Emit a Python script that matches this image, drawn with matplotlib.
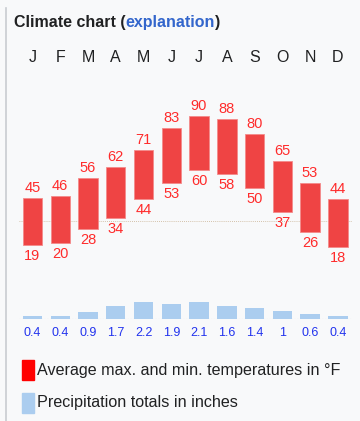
import matplotlib.pyplot as plt
from matplotlib.patches import Rectangle

plt.rcParams['font.family'] = ['Liberation Sans', 'DejaVu Sans']

months = ['J', 'F', 'M', 'A', 'M', 'J', 'J', 'A', 'S', 'O', 'N', 'D']
temp_max = [45, 46, 56, 62, 71, 83, 90, 88, 80, 65, 53, 44]
temp_min = [19, 20, 28, 34, 44, 53, 60, 58, 50, 37, 26, 18]
precip = [0.4, 0.4, 0.9, 1.7, 2.2, 1.9, 2.1, 1.6, 1.4, 1, 0.6, 0.4]
precip_labels = ['0.4', '0.4', '0.9', '1.7', '2.2', '1.9', '2.1', '1.6', '1.4', '1', '0.6', '0.4']

W, H = 360, 421
bg = '#f8f9fa'
bar_red = '#ef4444'
text_red = '#ff2b2b'
bar_blue = '#abcdef'
text_blue = '#2233ee'

fig = plt.figure(figsize=(W / 100, H / 100), dpi=100, facecolor=bg)


def px_axes(left, top, right, bottom):
    # axes rectangle given in pixel coordinates from the top-left corner
    return fig.add_axes([left / W, 1 - bottom / H, (right - left) / W, (bottom - top) / H])


x = list(range(12))

# temperature axes
ax = px_axes(18.6, 100, 351.7, 270)
ax.set_xlim(-0.5, 11.5)
ax.set_ylim(5.2, 98.6)
ax.axis('off')
heights = [hi - lo for hi, lo in zip(temp_max, temp_min)]
ax.bar(x, heights, bottom=temp_min, width=0.7, color=bar_red, edgecolor='#f48a8a', linewidth=0.6, zorder=3)
ax.axhline(32, color='#c8b090', linestyle=(0, (1, 1.5)), linewidth=0.6, zorder=1)
for i in x:
    ax.annotate(str(temp_max[i]), (i, temp_max[i]), xytext=(0, 10), textcoords='offset pixels',
                ha='center', va='center', color=text_red, fontsize=10.5)
    ax.annotate(str(temp_min[i]), (i, temp_min[i]), xytext=(0, -11), textcoords='offset pixels',
                ha='center', va='center', color=text_red, fontsize=10.5)

# month letters along the top
for i, m in enumerate(months):
    ax.annotate(m, (i, 0), xycoords=('data', 'figure fraction'), xytext=(0, H - 58),
                textcoords='offset pixels', ha='center', va='center', fontsize=11.5, color='#202122')

# precipitation axes
ax2 = px_axes(18.6, 290, 351.7, 319)
ax2.set_xlim(-0.5, 11.5)
ax2.set_ylim(0, 29 / 7.9)
ax2.axis('off')
ax2.bar(x, precip, width=0.7, color=bar_blue, zorder=3)
ax2.axhline(0, color='#c8c8c8', linestyle=(0, (1, 1.5)), linewidth=0.8, zorder=2)
for i in x:
    ax2.annotate(precip_labels[i], (i, 0), xytext=(0, -14), textcoords='offset pixels',
                 ha='center', va='center', color=text_blue, fontsize=9)

# left border
fig.add_artist(plt.Line2D([6.5 / W, 6.5 / W], [0, 1 - 8 / H], color='#c8ccd1', linewidth=1.2))

# title
ty = 1 - 22 / H
t1 = fig.text(14 / W, ty, 'Climate chart (', fontsize=11.5, fontweight='bold', va='center', color='#202122')
fig.canvas.draw()
bb = t1.get_window_extent()
t2 = fig.text(bb.x1 / W, ty, 'explanation', fontsize=11.5, fontweight='bold', va='center', color='#3366cc')
fig.canvas.draw()
bb2 = t2.get_window_extent()
fig.text(bb2.x1 / W, ty, ')', fontsize=11.5, fontweight='bold', va='center', color='#202122')

# legend
fig.add_artist(Rectangle((22 / W, 1 - 380 / H), 12 / W, 20 / H, transform=fig.transFigure, color='#ff0000'))
fig.text(37 / W, 1 - 370 / H, 'Average max. and min. temperatures in \u00b0F', fontsize=11.6, va='center', color='#202122')
fig.add_artist(Rectangle((22 / W, 1 - 413 / H), 12 / W, 20 / H, transform=fig.transFigure, color=bar_blue))
fig.text(37 / W, 1 - 403 / H, 'Precipitation totals in inches', fontsize=11.6, va='center', color='#202122')

fig.savefig('out.png', dpi=100, facecolor=bg)
